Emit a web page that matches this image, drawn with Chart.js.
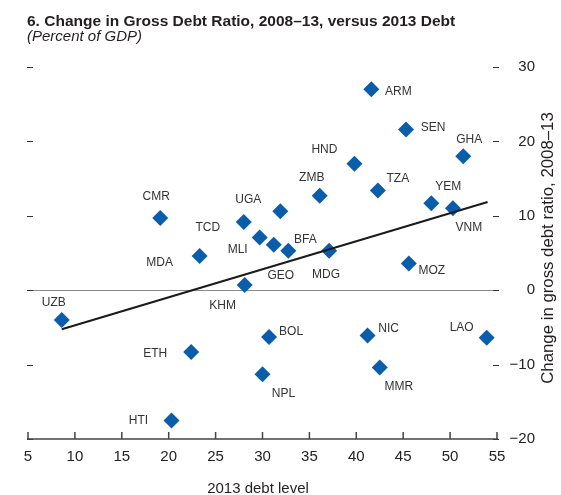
<!DOCTYPE html>
<html lang="en">
<head>
    <meta charset="UTF-8">
    <title>Change in Gross Debt Ratio, 2008–13, versus 2013 Debt</title>
    <script src="https://cdn.jsdelivr.net/npm/chart.js"></script>
    <style>
        body {
            margin: 0;
            background: #fff;
        }

        .wrap {
            position: relative;
            width: 561px;
            height: 495px;
            font-family: "Liberation Sans", Arial, sans-serif;
            color: #231f20;
        }

        canvas {
            position: absolute;
            left: 0;
            top: 0;
        }

        .title {
            position: absolute;
            left: 27px;
            top: 12px;
            font: bold 15.5px "Liberation Sans Narrow", "Liberation Sans", sans-serif;
            white-space: nowrap;
        }

        .subtitle {
            position: absolute;
            left: 27px;
            top: 27px;
            font: italic 15px "Liberation Sans", sans-serif;
            white-space: nowrap;
        }

        .xtitle {
            position: absolute;
            left: 158px;
            width: 200px;
            top: 479px;
            text-align: center;
            font-size: 15px;
            white-space: nowrap;
        }

        .ytitle {
            position: absolute;
            left: 548px;
            top: 248px;
            width: 320px;
            text-align: center;
            font-size: 16.8px;
            white-space: nowrap;
            transform: translate(-50%, -50%) rotate(-90deg);
        }
    </style>
</head>
<body>
    <div class="wrap">
        <canvas id="chart" width="561" height="495"></canvas>
        <div class="title">6. Change in Gross Debt Ratio, 2008–13, versus 2013 Debt</div>
        <div class="subtitle">(Percent of GDP)</div>
        <div class="xtitle">2013 debt level</div>
        <div class="ytitle">Change in gross debt ratio, 2008–13</div>
    </div>

    <script>
        "use strict";

        // Dati
        const countries = ['ARM', 'SEN', 'GHA', 'HND', 'ZMB', 'TZA', 'YEM', 'VNM', 'CMR', 'UGA', 'TCD', 'MLI', 'GEO',
            'BFA', 'MDG', 'MDA', 'MOZ', 'KHM', 'UZB', 'BOL', 'NIC', 'LAO', 'ETH', 'MMR', 'NPL', 'HTI'];
        const debt2013 = [41.6, 45.3, 51.4, 39.8, 36.1, 42.3, 48.0, 50.3, 19.1, 31.9, 28.0, 29.7, 31.2,
            32.75, 37.1, 23.3, 45.6, 28.1, 8.6, 30.7, 41.2, 53.9, 22.4, 42.5, 30.0, 20.3];
        const debtChange = [27.0, 21.6, 18.0, 17.0, 12.7, 13.4, 11.7, 11.0, 9.7, 10.6, 9.15, 7.1, 6.1,
            5.3, 5.3, 4.6, 3.6, 0.7, -4.0, -6.3, -6.1, -6.4, -8.3, -10.4, -11.3, -17.5];

        // Retta di regressione (estremi)
        const trendX = [8.6, 54.0];
        const trendY = [-5.25, 11.85];

        const xTicks = [5, 10, 15, 20, 25, 30, 35, 40, 45, 50, 55];
        const yTicks = [-20, -10, 0, 10, 20, 30];

        // Spostamento delle etichette rispetto al punto (pixel)
        const labelOffsets = [[27, 2], [27, -2], [6, -17], [-30, -14], [-8, -18], [20, -12], [17, -16], [16, 19],
            [-4, -21], [-32, -12], [-36, 6], [-22, 12], [7, 31], [17, -11], [-3, 24], [-40, 7], [23, 7], [-22, 21],
            [-8, -17], [22, -5], [21, -7], [-25, -10], [-36, 2], [19, 19], [21, 19], [-33, 0]];

        const BLUE = '#0a5dab';

        // Linea dello zero, tacche interne e asse orizzontale
        const axisMarks = {
            id: 'axisMarks',
            beforeDatasetsDraw(chart) {
                const { ctx, chartArea: a, scales: { x, y } } = chart;
                ctx.save();
                ctx.lineWidth = 1;
                ctx.strokeStyle = '#8a8a8a';
                const y0 = Math.round(y.getPixelForValue(0)) + 0.5;
                ctx.beginPath();
                ctx.moveTo(a.left - 1, y0);
                ctx.lineTo(a.right + 2, y0);
                ctx.stroke();

                ctx.strokeStyle = '#333';
                yTicks.forEach(v => {
                    const py = Math.round(y.getPixelForValue(v)) + 0.5;
                    ctx.beginPath();
                    ctx.moveTo(a.left - 1, py);
                    ctx.lineTo(a.left + 5, py);
                    ctx.moveTo(a.right - 4, py);
                    ctx.lineTo(a.right + 2, py);
                    ctx.stroke();
                });

                ctx.lineWidth = 1.5;
                ctx.strokeStyle = '#444';
                const yb = y.getPixelForValue(-20);
                ctx.beginPath();
                ctx.moveTo(a.left - 1, yb);
                ctx.lineTo(a.right + 1, yb);
                xTicks.forEach(v => {
                    const px = x.getPixelForValue(v);
                    ctx.moveTo(px, yb);
                    ctx.lineTo(px, yb - 7);
                });
                ctx.stroke();
                ctx.restore();
            }
        };

        // Etichette dei paesi
        const pointLabels = {
            id: 'pointLabels',
            afterDatasetsDraw(chart) {
                const { ctx } = chart;
                const meta = chart.getDatasetMeta(0);
                ctx.save();
                ctx.font = '12px "Liberation Sans", Arial, sans-serif';
                ctx.fillStyle = '#333';
                ctx.textAlign = 'center';
                ctx.textBaseline = 'middle';
                meta.data.forEach((pt, i) => {
                    const [dx, dy] = labelOffsets[i];
                    ctx.fillText(countries[i], pt.x + dx, pt.y + dy);
                });
                ctx.restore();
            }
        };

        const tickFont = { family: '"Liberation Sans", Arial, sans-serif', size: 15 };

        new Chart(document.getElementById('chart'), {
            type: 'scatter',
            data: {
                datasets: [{
                    label: 'Countries',
                    data: debt2013.map((v, i) => ({ x: v, y: debtChange[i] })),
                    pointStyle: 'rectRot',
                    pointRadius: 8,
                    pointHoverRadius: 8,
                    backgroundColor: BLUE,
                    borderWidth: 0,
                    order: 1
                }, {
                    label: 'Trend',
                    data: trendX.map((v, i) => ({ x: v, y: trendY[i] })),
                    showLine: true,
                    pointRadius: 0,
                    borderColor: '#1a1a1a',
                    borderWidth: 2,
                    order: 0
                }]
            },
            options: {
                responsive: false,
                animation: false,
                devicePixelRatio: 1,
                layout: { padding: { left: 28, top: 67, right: 26, bottom: 0 } },
                plugins: {
                    legend: { display: false },
                    tooltip: { enabled: false },
                    title: { display: false }
                },
                scales: {
                    x: {
                        type: 'linear',
                        min: 5,
                        max: 55,
                        grid: { display: false, drawTicks: false },
                        border: { display: false },
                        afterBuildTicks: s => { s.ticks = xTicks.map(v => ({ value: v })); },
                        afterFit: s => { s.height = 56; },
                        ticks: {
                            font: tickFont,
                            color: '#222',
                            padding: 9,
                            maxRotation: 0,
                            autoSkip: false
                        }
                    },
                    y: {
                        type: 'linear',
                        position: 'right',
                        min: -20,
                        max: 30,
                        grid: { display: false, drawTicks: false },
                        border: { display: false },
                        afterBuildTicks: s => { s.ticks = yTicks.map(v => ({ value: v })); },
                        afterFit: s => { s.width = 38; },
                        ticks: {
                            font: tickFont,
                            color: '#222',
                            padding: 12,
                            crossAlign: 'far',
                            callback: v => String(v).replace('-', '\u2212')
                        }
                    }
                }
            },
            plugins: [axisMarks, pointLabels]
        });
    </script>
</body>
</html>
